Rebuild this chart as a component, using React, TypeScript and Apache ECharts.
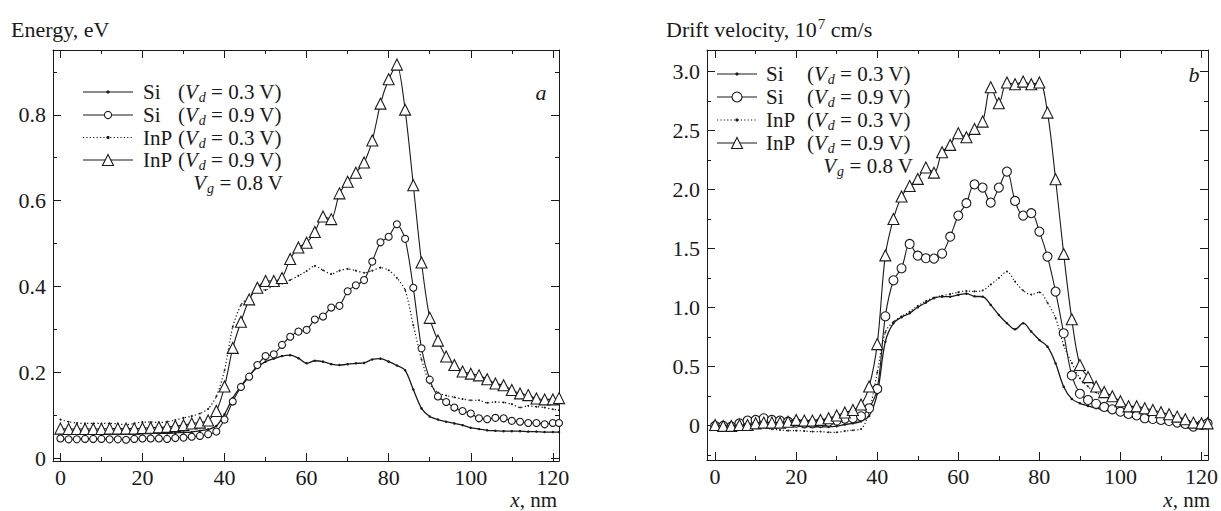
import React, { useEffect, useRef } from 'react';
import * as echarts from 'echarts';

// x positions (nm) of the simulation points
const X_NM = [0, 2, 4, 6, 8, 10, 12, 14, 16, 18, 20, 22, 24, 26, 28, 30, 32, 34, 36, 38,
  40, 42, 44, 46, 48, 50, 52, 54, 56, 58, 60, 62, 64, 66, 68, 70, 72, 74, 76, 78,
  80, 82, 84, 86, 88, 90, 92, 94, 96, 98, 100, 102, 104, 106, 108, 110, 112, 114, 116, 118,
  120, 121.5];

// Panel a: energy, eV
const E_SI_03 = [0.060, 0.059, 0.058, 0.058, 0.058, 0.057, 0.057, 0.057, 0.057, 0.057, 0.058, 0.058, 0.058, 0.058, 0.059, 0.060, 0.061, 0.064, 0.067, 0.075,
  0.102, 0.140, 0.168, 0.193, 0.212, 0.225, 0.232, 0.238, 0.240, 0.233, 0.221, 0.227, 0.225, 0.219, 0.217, 0.219, 0.221, 0.222, 0.230, 0.232,
  0.225, 0.216, 0.205, 0.160, 0.116, 0.097, 0.090, 0.085, 0.081, 0.077, 0.071, 0.068, 0.065, 0.064, 0.063, 0.063, 0.063, 0.062, 0.062, 0.061,
  0.061, 0.061];
const E_SI_09 = [0.046, 0.044, 0.044, 0.045, 0.045, 0.045, 0.044, 0.044, 0.043, 0.045, 0.046, 0.046, 0.046, 0.045, 0.047, 0.048, 0.050, 0.052, 0.056, 0.062,
  0.090, 0.132, 0.166, 0.190, 0.217, 0.238, 0.242, 0.264, 0.283, 0.295, 0.299, 0.323, 0.330, 0.351, 0.355, 0.389, 0.403, 0.415, 0.458, 0.503,
  0.516, 0.545, 0.511, 0.397, 0.256, 0.183, 0.144, 0.131, 0.118, 0.110, 0.104, 0.093, 0.091, 0.094, 0.093, 0.087, 0.085, 0.082, 0.082, 0.079,
  0.082, 0.082];
const E_INP_03 = [0.090, 0.085, 0.082, 0.081, 0.081, 0.081, 0.081, 0.080, 0.078, 0.081, 0.084, 0.084, 0.083, 0.085, 0.089, 0.094, 0.098, 0.104, 0.115, 0.144,
  0.205, 0.306, 0.357, 0.376, 0.392, 0.392, 0.403, 0.407, 0.415, 0.425, 0.436, 0.448, 0.438, 0.429, 0.437, 0.441, 0.437, 0.432, 0.437, 0.444,
  0.438, 0.420, 0.392, 0.310, 0.230, 0.174, 0.153, 0.146, 0.142, 0.138, 0.135, 0.135, 0.129, 0.131, 0.130, 0.126, 0.118, 0.122, 0.120, 0.118,
  0.114, 0.112];
const E_INP_09 = [0.069, 0.068, 0.068, 0.068, 0.068, 0.068, 0.069, 0.069, 0.069, 0.069, 0.070, 0.071, 0.072, 0.073, 0.075, 0.077, 0.081, 0.083, 0.088, 0.110,
  0.167, 0.257, 0.318, 0.370, 0.397, 0.413, 0.413, 0.420, 0.464, 0.491, 0.502, 0.527, 0.563, 0.557, 0.617, 0.644, 0.665, 0.689, 0.740, 0.826,
  0.883, 0.917, 0.812, 0.636, 0.456, 0.327, 0.274, 0.237, 0.217, 0.202, 0.197, 0.193, 0.184, 0.174, 0.170, 0.159, 0.151, 0.147, 0.139, 0.137,
  0.137, 0.140];

// Panel b: drift velocity, 10^7 cm/s
const V_SI_03 = [0.000, -0.005, -0.005, 0.000, 0.005, 0.010, 0.012, 0.008, 0.004, 0.000, -0.004, -0.008, -0.010, -0.012, -0.012, -0.006, 0.008, 0.018, 0.035, 0.080,
  0.270, 0.710, 0.867, 0.918, 0.952, 1.002, 1.042, 1.079, 1.092, 1.092, 1.107, 1.118, 1.095, 1.092, 1.022, 0.937, 0.867, 0.815, 0.867, 0.796,
  0.725, 0.668, 0.527, 0.329, 0.225, 0.188, 0.165, 0.146, 0.131, 0.117, 0.103, 0.089, 0.081, 0.072, 0.062, 0.052, 0.043, 0.034, 0.025, 0.015,
  0.005, 0.000];
const V_SI_09 = [-0.004, -0.004, -0.010, 0.018, 0.041, 0.047, 0.061, 0.047, 0.041, 0.032, 0.024, 0.018, 0.018, 0.024, 0.032, 0.042, 0.058, 0.062, 0.078, 0.146,
  0.310, 0.926, 1.231, 1.333, 1.539, 1.440, 1.418, 1.415, 1.458, 1.601, 1.780, 1.885, 2.045, 2.017, 1.890, 2.017, 2.153, 1.904, 1.780, 1.800,
  1.644, 1.432, 1.135, 0.782, 0.424, 0.269, 0.216, 0.184, 0.157, 0.137, 0.117, 0.098, 0.085, 0.061, 0.055, 0.047, 0.038, 0.024, 0.013, -0.010,
  0.004, 0.018];
const V_INP_03 = [-0.010, -0.016, -0.018, -0.010, -0.004, -0.010, -0.018, -0.032, -0.038, -0.044, -0.044, -0.047, -0.052, -0.052, -0.058, -0.058, -0.048, -0.040, -0.030, 0.120,
  0.450, 0.790, 0.880, 0.925, 0.965, 1.015, 1.055, 1.085, 1.100, 1.115, 1.130, 1.140, 1.137, 1.145, 1.195, 1.250, 1.305, 1.220, 1.145, 1.110,
  1.130, 1.040, 0.910, 0.680, 0.530, 0.400, 0.330, 0.280, 0.250, 0.220, 0.190, 0.160, 0.140, 0.125, 0.110, 0.095, 0.080, 0.065, 0.050, 0.035,
  0.025, 0.020];
const V_INP_09 = [0.004, -0.004, -0.004, 0.004, 0.004, 0.018, 0.024, 0.024, 0.024, 0.032, 0.047, 0.041, 0.041, 0.047, 0.061, 0.085, 0.110, 0.131, 0.178, 0.330,
  0.690, 1.442, 1.751, 1.941, 2.031, 2.091, 2.187, 2.144, 2.317, 2.379, 2.478, 2.444, 2.515, 2.577, 2.868, 2.733, 2.908, 2.894, 2.916, 2.894,
  2.908, 2.653, 2.088, 1.455, 0.900, 0.513, 0.410, 0.330, 0.283, 0.248, 0.205, 0.162, 0.162, 0.146, 0.131, 0.112, 0.095, 0.075, 0.052, 0.024,
  0.018, 0.018];

// Ticks
const X_MAJOR = [0, 20, 40, 60, 80, 100, 120];
const X_MINOR = [10, 30, 50, 70, 90, 110];
const E_MAJOR = [0, 0.2, 0.4, 0.6, 0.8];
const E_MINOR = [0.1, 0.3, 0.5, 0.7, 0.9];
const V_MAJOR = [0, 0.5, 1.0, 1.5, 2.0, 2.5, 3.0];
const V_MINOR = [-0.25, 0.25, 0.75, 1.25, 1.75, 2.25, 2.75];

// Legend texts
const LEGEND_MATERIAL = ['Si', 'Si', 'InP', 'InP'];
const LEGEND_VD = ['0.3', '0.9', '0.3', '0.9'];
const LEGEND_VG = '0.8';

const FONT = "'Liberation Serif', 'Times New Roman', serif";
const INK = '#1a1a1a';
const TXT = 21;

function pairs(ys: number[]) {
  return X_NM.map((x, i) => [x, ys[i]]);
}

function makeXAxes(grid: number, min: number, max: number) {
  const base = {
    type: 'value', gridIndex: grid, min, max, splitLine: { show: false },
  };
  return [
    {
      ...base, position: 'bottom',
      axisLine: { show: true, onZero: false, lineStyle: { color: INK, width: 1 } },
      axisTick: { show: true, inside: true, length: 8, customValues: X_MAJOR, lineStyle: { color: INK } },
      axisLabel: { show: true, customValues: X_MAJOR, margin: 5, fontFamily: FONT, fontSize: 22, color: INK },
    },
    {
      ...base, position: 'bottom',
      axisLine: { show: false, onZero: false },
      axisTick: { show: true, inside: true, length: 4, customValues: X_MINOR, lineStyle: { color: INK } },
      axisLabel: { show: false },
    },
    {
      ...base, position: 'top',
      axisLine: { show: true, onZero: false, lineStyle: { color: INK, width: 1 } },
      axisTick: { show: true, inside: true, length: 8, customValues: X_MAJOR, lineStyle: { color: INK } },
      axisLabel: { show: false },
    },
    {
      ...base, position: 'top',
      axisLine: { show: false, onZero: false },
      axisTick: { show: true, inside: true, length: 4, customValues: X_MINOR, lineStyle: { color: INK } },
      axisLabel: { show: false },
    },
  ];
}

function makeYAxes(grid: number, min: number, max: number, major: number[], minor: number[]) {
  const base = {
    type: 'value', gridIndex: grid, min, max, splitLine: { show: false },
  };
  return [
    {
      ...base, position: 'left',
      axisLine: { show: true, onZero: false, lineStyle: { color: INK, width: 1 } },
      axisTick: { show: true, inside: true, length: 8, customValues: major, lineStyle: { color: INK } },
      axisLabel: {
        show: true, customValues: major, margin: 7, fontFamily: FONT, fontSize: 22, color: INK,
        formatter: (v: number) => (Math.abs(v) < 1e-9 ? '0' : v.toFixed(1)),
      },
    },
    {
      ...base, position: 'left',
      axisLine: { show: false, onZero: false },
      axisTick: { show: true, inside: true, length: 4, customValues: minor, lineStyle: { color: INK } },
      axisLabel: { show: false },
    },
    {
      ...base, position: 'right',
      axisLine: { show: true, onZero: false, lineStyle: { color: INK, width: 1 } },
      axisTick: { show: true, inside: true, length: 8, customValues: major, lineStyle: { color: INK } },
      axisLabel: { show: false },
    },
    {
      ...base, position: 'right',
      axisLine: { show: false, onZero: false },
      axisTick: { show: true, inside: true, length: 4, customValues: minor, lineStyle: { color: INK } },
      axisLabel: { show: false },
    },
  ];
}

function makeSeries(axis: number, ys: number[][], circleSize: number, triSize: number, smooth: number) {
  const [si03, si09, inp03, inp09] = ys;
  const common = { type: 'line', xAxisIndex: axis, yAxisIndex: axis, smooth, showSymbol: true, silent: true };
  return [
    {
      ...common, name: 'Si 0.3', data: pairs(si03), symbol: 'circle', symbolSize: 2.5, z: 3,
      lineStyle: { color: INK, width: 1.3, type: 'solid' },
      itemStyle: { color: INK },
    },
    {
      ...common, name: 'InP 0.3', data: pairs(inp03), symbol: 'circle', symbolSize: 1.8, z: 2,
      lineStyle: { color: INK, width: 1.2, type: [1.2, 2.2] },
      itemStyle: { color: INK },
    },
    {
      ...common, name: 'Si 0.9', data: pairs(si09), symbol: 'circle', symbolSize: circleSize, z: 4,
      lineStyle: { color: INK, width: 1.1 },
      itemStyle: { color: '#ffffff', borderColor: INK, borderWidth: 1.1 },
    },
    {
      ...common, name: 'InP 0.9', data: pairs(inp09), symbol: 'triangle', symbolSize: triSize, z: 5,
      lineStyle: { color: INK, width: 1.1 },
      itemStyle: { color: '#ffffff', borderColor: INK, borderWidth: 1.1 },
    },
  ];
}

function textEl(x: number, y: number, text: string, align: string, size: number, rich?: any, lh = 22) {
  return {
    type: 'text', x, y, silent: true, z: 10,
    style: {
      text, fill: INK, fontFamily: FONT, fontSize: size, lineHeight: lh,
      align, verticalAlign: 'middle', textAlign: align, textVerticalAlign: 'middle',
      rich,
    },
  };
}

const RICH = {
  v: { fontStyle: 'italic', fontFamily: FONT, fontSize: TXT, lineHeight: 22, fill: INK, color: INK },
  d: { fontStyle: 'italic', fontFamily: FONT, fontSize: 14, lineHeight: 15, padding: [11, 0, 0, 1], fill: INK, color: INK },
  s: { fontFamily: FONT, fontSize: 14, lineHeight: 15, padding: [0, 0, 11, 1], fill: INK, color: INK },
};

function legendBlock(cfg: {
  rows: number[]; vgY: number; lx0: number; lx1: number; nameX: number; parenX: number; vgRight: number;
  triSize: number; circR: number;
}) {
  const els: any[] = [];
  const cx = (cfg.lx0 + cfg.lx1) / 2;
  cfg.rows.forEach((y, i) => {
    const dotted = i === 2;
    els.push({
      type: 'line', silent: true, z: 10,
      shape: { x1: cfg.lx0, y1: y, x2: cfg.lx1, y2: y },
      style: { stroke: INK, lineWidth: 1.2, lineDash: dotted ? [1.2, 2.2] : null },
    });
    if (i === 0 || i === 2) {
      els.push({ type: 'circle', silent: true, z: 11, shape: { cx, cy: y, r: 1.6 }, style: { fill: INK } });
    } else if (i === 1) {
      els.push({ type: 'circle', silent: true, z: 11, shape: { cx, cy: y, r: cfg.circR }, style: { fill: '#fff', stroke: INK, lineWidth: 1.1 } });
    } else {
      const h = cfg.triSize / 2;
      els.push({
        type: 'polygon', silent: true, z: 11,
        shape: { points: [[cx, y - h], [cx + h, y + h], [cx - h, y + h]] },
        style: { fill: '#fff', stroke: INK, lineWidth: 1.1 },
      });
    }
    els.push(textEl(cfg.nameX, y, LEGEND_MATERIAL[i], 'left', TXT));
    els.push(textEl(cfg.parenX, y, `({v|V}{d|d} = ${LEGEND_VD[i]} V)`, 'left', TXT, RICH));
  });
  els.push(textEl(cfg.vgRight, cfg.vgY, `{v|V}{d|g} = ${LEGEND_VG} V`, 'right', TXT, RICH));
  return els;
}

export default function App() {
  const ref = useRef<HTMLDivElement>(null);
  useEffect(() => {
    if (!ref.current) return;
    const chart = echarts.init(ref.current, undefined, { renderer: 'svg' });
    const xnmRich = { v: { ...RICH.v, fontSize: 21, lineHeight: 19 } };
    const graphics: any[] = [
      textEl(11, 29, 'Energy, eV', 'left', 22),
      textEl(666, 29, 'Drift velocity, 10{s|7} cm/s', 'left', 22, {
        ...RICH, s: { fontFamily: FONT, fontSize: 15, lineHeight: 16, padding: [0, 0, 11, 1], fill: INK, color: INK },
      }),
      textEl(557, 500, '{v|x}, nm', 'right', 21, xnmRich, 19),
      textEl(1210, 500, '{v|x}, nm', 'right', 21, xnmRich, 19),
      { type: 'text', x: 541, y: 92, silent: true, z: 10, style: { text: 'a', fill: INK, fontFamily: FONT, fontSize: 22, fontStyle: 'italic', align: 'center', verticalAlign: 'middle', textAlign: 'center', textVerticalAlign: 'middle' } },
      { type: 'text', x: 1194, y: 74, silent: true, z: 10, style: { text: 'b', fill: INK, fontFamily: FONT, fontSize: 22, fontStyle: 'italic', align: 'center', verticalAlign: 'middle', textAlign: 'center', textVerticalAlign: 'middle' } },
      ...legendBlock({ rows: [92, 115, 137.5, 160], vgY: 183, lx0: 83, lx1: 133, nameX: 143, parenX: 178, vgRight: 283, triSize: 11, circR: 3.6 }),
      ...legendBlock({ rows: [74, 97, 120, 143], vgY: 166, lx0: 717, lx1: 757, nameX: 766, parenX: 807, vgRight: 913, triSize: 11, circR: 5 }),
    ];
    chart.setOption({
      animation: false,
      backgroundColor: '#ffffff',
      grid: [
        { left: 53, top: 50, width: 506, height: 411 },
        { left: 707, top: 50, width: 505, height: 410 },
      ],
      xAxis: [...makeXAxes(0, -1.8, 121.5), ...makeXAxes(1, -2.0, 121.6)],
      yAxis: [
        ...makeYAxes(0, -0.0065, 0.951, E_MAJOR, E_MINOR),
        ...makeYAxes(1, -0.293, 3.184, V_MAJOR, V_MINOR),
      ],
      series: [
        ...makeSeries(0, [E_SI_03, E_SI_09, E_INP_03, E_INP_09], 7, 11, 0.25),
        ...makeSeries(4, [V_SI_03, V_SI_09, V_INP_03, V_INP_09], 9, 11, 0.35),
      ],
      graphic: graphics,
    });
    return () => chart.dispose();
  }, []);
  return <div ref={ref} style={{ position: 'fixed', left: 0, top: 0, width: 1221, height: 511, background: '#fff' }} />;
}
